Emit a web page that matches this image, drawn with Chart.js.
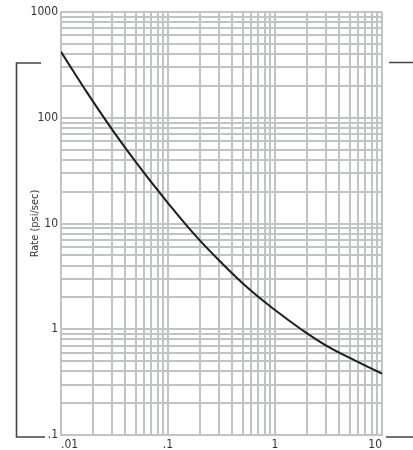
<!DOCTYPE html>
<html>
<head>
<meta charset="utf-8">
<script src="https://cdn.jsdelivr.net/npm/chart.js@4.4.0/dist/chart.umd.min.js"></script>
<style>
  html, body { margin: 0; padding: 0; background: #ffffff; }
  #wrap { position: relative; width: 413px; height: 450px; }
</style>
</head>
<body>
<div id="wrap"><canvas id="c" width="413" height="450"></canvas></div>
<script>
// ---- data ----
const xValues = [0.01, 0.0178, 0.0316, 0.0562, 0.1, 0.178, 0.316, 0.562, 1, 1.78, 3.16, 5.62, 10];
const rateValues = [420, 169, 72, 32.6, 15.6, 7.8, 4.25, 2.44, 1.52, 0.99, 0.68, 0.505, 0.38];

const xTickValues = [0.01, 0.1, 1, 10];
const xTickLabels = ['.01', '.1', '1', '10'];
const yTickValues = [0.1, 1, 10, 100, 1000];
const yTickLabels = ['.1', '1', '10', '100', '1000'];
const yTitle = 'Rate (psi/sec)';

// ---- helpers ----
const FONT = "'Liberation Sans Narrow', 'DejaVu Sans Condensed', 'Liberation Sans', Arial, sans-serif";
const GRID = '#c2c4c4';
const TEXT = '#333333';

function gridTicks(decades) {
  const out = [];
  for (let i = 0; i < decades.length - 1; i++) {
    for (let m = 1; m <= 9; m++) out.push({ value: decades[i] * m });
  }
  out.push({ value: decades[decades.length - 1] });
  return out;
}
function labelFor(values, labels) {
  return function (v) {
    for (let i = 0; i < values.length; i++) {
      if (Math.abs(Math.log10(v) - Math.log10(values[i])) < 1e-6) return labels[i];
    }
    return '';
  };
}

const bracketPlugin = {
  id: 'bracket',
  afterDraw(chart) {
    const ctx = chart.ctx;
    ctx.save();
    ctx.strokeStyle = '#444444';
    ctx.lineWidth = 1.6;
    ctx.beginPath();
    ctx.moveTo(41, 63); ctx.lineTo(16.5, 63); ctx.lineTo(16.5, 437); ctx.lineTo(45, 437);
    ctx.moveTo(389, 62.5); ctx.lineTo(413, 62.5);
    ctx.moveTo(386, 437); ctx.lineTo(413, 437);
    ctx.stroke();
    ctx.restore();
  }
};

new Chart(document.getElementById('c'), {
  type: 'line',
  data: {
    datasets: [{
      data: xValues.map((x, i) => ({ x: x, y: rateValues[i] })),
      borderColor: '#1e1e1e',
      borderWidth: 2,
      pointRadius: 0,
      tension: 0.4,
      fill: false
    }]
  },
  plugins: [bracketPlugin],
  options: {
    responsive: false,
    animation: false,
    layout: { padding: { left: 0, right: 31, top: 12, bottom: 0 } },
    plugins: { legend: { display: false }, tooltip: { enabled: false } },
    scales: {
      x: {
        type: 'logarithmic',
        min: 0.01, max: 10,
        afterBuildTicks: s => { s.ticks = gridTicks(xTickValues); },
        afterFit: s => { s.height = 15; },
        grid: { color: GRID, lineWidth: 2, drawTicks: false },
        border: { color: GRID, width: 2 },
        ticks: {
          autoSkip: false, maxRotation: 0, minRotation: 0, padding: 3, align: 'inner',
          color: TEXT, font: { family: FONT, size: 12 },
          callback: labelFor(xTickValues, xTickLabels)
        }
      },
      y: {
        type: 'logarithmic',
        min: 0.1, max: 1000,
        afterBuildTicks: s => { s.ticks = gridTicks(yTickValues); },
        afterFit: s => { s.width = 61; },
        grid: { color: GRID, lineWidth: 2, drawTicks: false },
        border: { color: GRID, width: 2 },
        title: {
          display: true, text: yTitle, color: TEXT,
          font: { family: FONT, size: 11 },
          padding: { top: 29, bottom: 0 }
        },
        ticks: {
          autoSkip: false, padding: 3,
          color: TEXT, font: { family: FONT, size: 12 },
          callback: labelFor(yTickValues, yTickLabels)
        }
      }
    }
  }
});
</script>
</body>
</html>
